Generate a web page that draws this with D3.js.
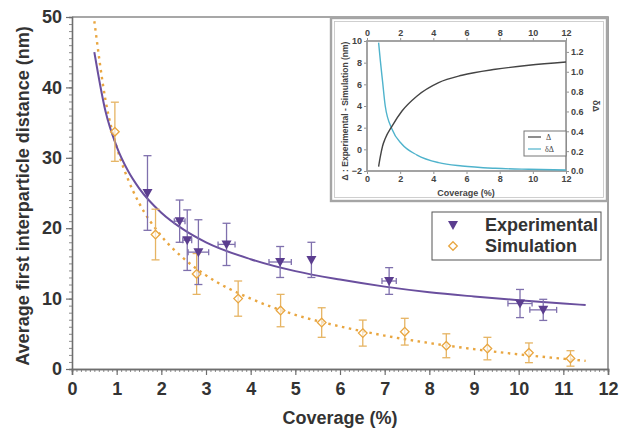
<!DOCTYPE html>
<html>
<head>
<meta charset="utf-8">
<script src="https://cdn.jsdelivr.net/npm/d3@7"></script>
<style>
  html, body { margin: 0; padding: 0; background: #fff; }
  svg { display: block; font-family: "Liberation Sans", Arial, sans-serif; }
</style>
</head>
<body>
<svg id="chart" width="619" height="435"></svg>
<script>
// Measured points: experimental (with x and y uncertainty)
const expX    = [1.69, 2.41, 2.58, 2.83, 3.46, 4.66, 5.36, 7.10, 10.03, 10.55];
const expY    = [25.0, 21.0, 18.3, 16.6, 17.7, 15.2, 15.5, 12.5, 9.3, 8.4];
const expYErr = [5.3, 3.0, 4.3, 4.6, 3.0, 2.2, 2.5, 1.9, 2.0, 1.5];
const expXErr = [0, 0.12, 0.10, 0.23, 0.19, 0.25, 0, 0.16, 0.27, 0.30];

// Simulated points
const simX    = [0.96, 1.87, 2.79, 3.72, 4.67, 5.59, 6.51, 7.45, 8.38, 9.30, 10.23, 11.16];
const simY    = [33.7, 19.1, 13.5, 10.0, 8.3, 6.6, 5.1, 5.3, 3.3, 2.9, 2.3, 1.5];
const simYErr = [4.2, 3.6, 2.9, 2.5, 2.3, 2.1, 1.85, 1.9, 1.7, 1.6, 1.4, 1.1];

// Fitted curves
const fitX   = [0.5, 0.75, 1, 1.25, 1.5, 2, 2.5, 3, 4, 5, 6, 7, 8, 9, 10, 11, 11.5];
const expFit = [45.0, 36.6, 31.6, 28.2, 25.7, 22.2, 19.8, 18.0, 15.6, 13.9, 12.7, 11.7, 10.9, 10.3, 9.77, 9.30, 9.09];
const simFit = [49.4, 38.2, 31.55, 27.0, 23.6, 18.9, 15.7, 13.3, 10.0, 7.7, 6.05, 4.74, 3.69, 2.82, 2.08, 1.45, 1.16];

// Inset: difference of the fits and its relative size
const insetX = [0.70, 0.80, 0.94, 1.10, 1.51, 2.11, 3.02, 4.32, 5.73, 7.74, 9.75, 12];
const delta  = [-1.6, -0.7, 0.31, 1.0, 2.15, 3.54, 4.93, 6.16, 6.84, 7.39, 7.76, 8.06];
const dDelta = [1.293, 1.12, 0.90, 0.655, 0.42, 0.269, 0.161, 0.084, 0.05, 0.027, 0.017, 0.01];

// Tick labels
const xTicks      = [0, 1, 2, 3, 4, 5, 6, 7, 8, 9, 10, 11, 12];
const yTicks      = [0, 10, 20, 30, 40, 50];
const insetXTicks = [0, 2, 4, 6, 8, 10, 12];
const insetLTicks = [-2, 0, 2, 4, 6, 8, 10];
const insetRTicks = [0, 0.2, 0.4, 0.6, 0.8, 1.0, 1.2];

const purple = "#5b3d8f", purpleLine = "#6a4f9e", purpleErr = "#7f70ad";
const orange = "#e9a640", orangeErr = "#e6b463";
const axisGray = "#6e6e6e", textCol = "#333";

const svg = d3.select("#chart");

// ---------- main panel ----------
const x = d3.scaleLinear().domain([0, 12]).range([72, 608]);
const y = d3.scaleLinear().domain([0, 50]).range([369, 17]);

// frame (top and right)
svg.append("path")
  .attr("d", `M${x(0)},${y(50)}H${x(12)}V${y(0)}`)
  .attr("fill", "none").attr("stroke", "#8a8a8a").attr("stroke-width", 1.6);

const xAxis = svg.append("g").attr("transform", `translate(0,${y(0)})`);
xAxis.call(d3.axisBottom(x).tickValues(d3.range(0, 12.001, 0.1)).tickSize(3).tickFormat(""));
xAxis.call(g => g.selectAll(".tick line").attr("stroke", axisGray).attr("stroke-width", 0.8));
const xMajor = svg.append("g").attr("transform", `translate(0,${y(0)})`)
  .call(d3.axisBottom(x).tickValues(xTicks).tickSize(6).tickPadding(7).tickFormat(d3.format("d")));
xMajor.selectAll("text").attr("font-size", 18).attr("font-weight", "bold").attr("fill", textCol)
  .attr("font-family", "Liberation Sans, Arial, sans-serif");
svg.selectAll(".domain").attr("stroke", axisGray).attr("stroke-width", 1.6);
xMajor.selectAll(".tick line").attr("stroke", axisGray).attr("stroke-width", 1.2);

const yMinor = svg.append("g").attr("transform", `translate(${x(0)},0)`)
  .call(d3.axisLeft(y).tickValues(d3.range(0, 50.001, 1)).tickSize(3).tickFormat(""));
yMinor.selectAll(".tick line").attr("stroke", axisGray).attr("stroke-width", 0.8);
yMinor.select(".domain").attr("stroke", axisGray).attr("stroke-width", 1.6);
const yMajor = svg.append("g").attr("transform", `translate(${x(0)},0)`)
  .call(d3.axisLeft(y).tickValues(yTicks).tickSize(6).tickPadding(4).tickFormat(d3.format("d")));
yMajor.select(".domain").remove();
yMajor.selectAll(".tick line").attr("stroke", axisGray).attr("stroke-width", 1.2);
yMajor.selectAll("text").attr("font-size", 18).attr("font-weight", "bold").attr("fill", textCol)
  .attr("font-family", "Liberation Sans, Arial, sans-serif");

// axis titles
svg.append("text").attr("x", 340).attr("y", 424).attr("text-anchor", "middle")
  .attr("font-size", 18).attr("font-weight", "bold").attr("fill", textCol).text("Coverage (%)");
svg.append("text").attr("transform", `translate(29,196) rotate(-90)`).attr("text-anchor", "middle")
  .attr("font-size", 18).attr("font-weight", "bold").attr("fill", textCol)
  .text("Average first interparticle distance (nm)");

// fit curves
const fitLine = d3.line().x(d => x(d[0])).y(d => y(d[1])).curve(d3.curveMonotoneX);
svg.append("path").datum(fitX.map((v, i) => [v, simFit[i]]))
  .attr("d", fitLine).attr("fill", "none").attr("stroke", orange)
  .attr("stroke-width", 2.4).attr("stroke-dasharray", "2.5,4.5");
svg.append("path").datum(fitX.map((v, i) => [v, expFit[i]]))
  .attr("d", fitLine).attr("fill", "none").attr("stroke", purpleLine).attr("stroke-width", 2);

// error bars
function errorBars(xs, ys, yerr, xerr, col) {
  const g = svg.append("g").attr("stroke", col).attr("stroke-width", 1.3).attr("fill", "none");
  xs.forEach((xv, i) => {
    const cx = x(xv), y1 = y(ys[i] + yerr[i]), y2 = y(ys[i] - yerr[i]);
    g.append("line").attr("x1", cx).attr("x2", cx).attr("y1", y1).attr("y2", y2);
    g.append("line").attr("x1", cx - 4).attr("x2", cx + 4).attr("y1", y1).attr("y2", y1);
    g.append("line").attr("x1", cx - 4).attr("x2", cx + 4).attr("y1", y2).attr("y2", y2);
    if (xerr && xerr[i] > 0) {
      const cy = y(ys[i]), x1 = x(xv - xerr[i]), x2 = x(xv + xerr[i]);
      g.append("line").attr("x1", x1).attr("x2", x2).attr("y1", cy).attr("y2", cy);
      g.append("line").attr("x1", x1).attr("x2", x1).attr("y1", cy - 3).attr("y2", cy + 3);
      g.append("line").attr("x1", x2).attr("x2", x2).attr("y1", cy - 3).attr("y2", cy + 3);
    }
  });
}
errorBars(simX, simY, simYErr, null, orangeErr);
errorBars(expX, expY, expYErr, expXErr, purpleErr);

const tri = "M-5,-4L5,-4L0,5Z";
const dia = "M0,-4.3L4.3,0L0,4.3L-4.3,0Z";
svg.append("g").selectAll("path").data(simX).join("path")
  .attr("transform", (d, i) => `translate(${x(d)},${y(simY[i])})`)
  .attr("d", dia).attr("fill", "#fff").attr("fill-opacity", 0.6)
  .attr("stroke", orange).attr("stroke-width", 1.3);
svg.append("g").selectAll("path").data(expX).join("path")
  .attr("transform", (d, i) => `translate(${x(d)},${y(expY[i])})`)
  .attr("d", tri).attr("fill", purple);

// legend
const lg = svg.append("g");
lg.append("rect").attr("x", 432).attr("y", 212).attr("width", 169).attr("height", 48)
  .attr("fill", "#fff").attr("stroke", "#555").attr("stroke-width", 1);
lg.append("path").attr("transform", "translate(453,225)").attr("d", tri).attr("fill", purple);
lg.append("path").attr("transform", "translate(453,246)").attr("d", dia)
  .attr("fill", "#fff").attr("stroke", orange).attr("stroke-width", 1.3);
lg.append("text").attr("x", 485).attr("y", 231).attr("font-size", 18).attr("font-weight", "bold")
  .attr("fill", textCol).text("Experimental");
lg.append("text").attr("x", 485).attr("y", 252).attr("font-size", 18).attr("font-weight", "bold")
  .attr("fill", textCol).text("Simulation");

// ---------- inset ----------
const ig = svg.append("g");
ig.append("rect").attr("x", 331).attr("y", 18).attr("width", 276).attr("height", 183)
  .attr("fill", "#fff").attr("stroke", "#a5a5a5").attr("stroke-width", 2.4);
ig.append("rect").attr("x", 334.5).attr("y", 21.5).attr("width", 269).attr("height", 176)
  .attr("fill", "none").attr("stroke", "#c4c4c4").attr("stroke-width", 0.8);

const ix = d3.scaleLinear().domain([0, 12]).range([367, 566]);
const iyL = d3.scaleLinear().domain([-2, 10]).range([171, 41]);
const iyR = d3.scaleLinear().domain([0, 1.31]).range([171, 41]);

const small = g => {
  g.select(".domain").remove();
  g.selectAll(".tick line").attr("stroke", "#777").attr("stroke-width", 0.8);
  g.selectAll("text").attr("font-size", 9).attr("font-weight", "bold").attr("fill", "#444")
    .attr("font-family", "Liberation Sans, Arial, sans-serif");
};
ig.append("g").attr("transform", "translate(0,171)")
  .call(d3.axisBottom(ix).tickValues(insetXTicks).tickSize(3).tickPadding(2)).call(small);
ig.append("g").attr("transform", "translate(0,41)")
  .call(d3.axisTop(ix).tickValues(insetXTicks).tickSize(3).tickPadding(2)).call(small);
ig.append("g").attr("transform", "translate(367,0)")
  .call(d3.axisLeft(iyL).tickValues(insetLTicks).tickSize(3).tickPadding(2)).call(small);
ig.append("g").attr("transform", "translate(566,0)")
  .call(d3.axisRight(iyR).tickValues(insetRTicks).tickSize(3).tickPadding(2).tickFormat(d3.format(".1f"))).call(small);

ig.append("rect").attr("x", 367).attr("y", 41).attr("width", 199).attr("height", 130)
  .attr("fill", "none").attr("stroke", "#9a9a9a").attr("stroke-width", 1.8);

ig.append("path").datum(insetX.map((v, i) => [v, dDelta[i]]))
  .attr("d", d3.line().x(d => ix(d[0])).y(d => iyR(d[1])).curve(d3.curveMonotoneX))
  .attr("fill", "none").attr("stroke", "#4fb3cc").attr("stroke-width", 1.4);
ig.append("path").datum(insetX.map((v, i) => [v, delta[i]]))
  .attr("d", d3.line().x(d => ix(d[0])).y(d => iyL(d[1])).curve(d3.curveMonotoneX))
  .attr("fill", "none").attr("stroke", "#444").attr("stroke-width", 1.4);

// inset legend
ig.append("rect").attr("x", 524).attr("y", 131).attr("width", 42).attr("height", 25)
  .attr("fill", "#fff").attr("stroke", "#777").attr("stroke-width", 1);
ig.append("line").attr("x1", 528).attr("x2", 541).attr("y1", 137).attr("y2", 137)
  .attr("stroke", "#444").attr("stroke-width", 1.2);
ig.append("line").attr("x1", 528).attr("x2", 541).attr("y1", 149).attr("y2", 149)
  .attr("stroke", "#4fb3cc").attr("stroke-width", 1.2);
ig.append("text").attr("x", 546).attr("y", 140).attr("font-size", 8).attr("fill", "#444")
  .attr("font-family", "Liberation Serif, serif").text("Δ");
ig.append("text").attr("x", 545).attr("y", 152).attr("font-size", 8).attr("fill", "#444")
  .attr("font-family", "Liberation Serif, serif").text("δΔ");

// inset titles
ig.append("text").attr("x", 466).attr("y", 196).attr("text-anchor", "middle")
  .attr("font-size", 9).attr("font-weight", "bold").attr("fill", "#444").text("Coverage (%)");
ig.append("text").attr("transform", "translate(348,111) rotate(-90)").attr("text-anchor", "middle")
  .attr("font-size", 8.5).attr("font-weight", "bold").attr("fill", "#444")
  .text("Δ : Experimental - Simulation (nm)");
ig.append("text").attr("transform", "translate(593,106) rotate(90)").attr("text-anchor", "middle")
  .attr("font-size", 9).attr("font-weight", "bold").attr("fill", "#444").text("δΔ");
</script>
</body>
</html>
